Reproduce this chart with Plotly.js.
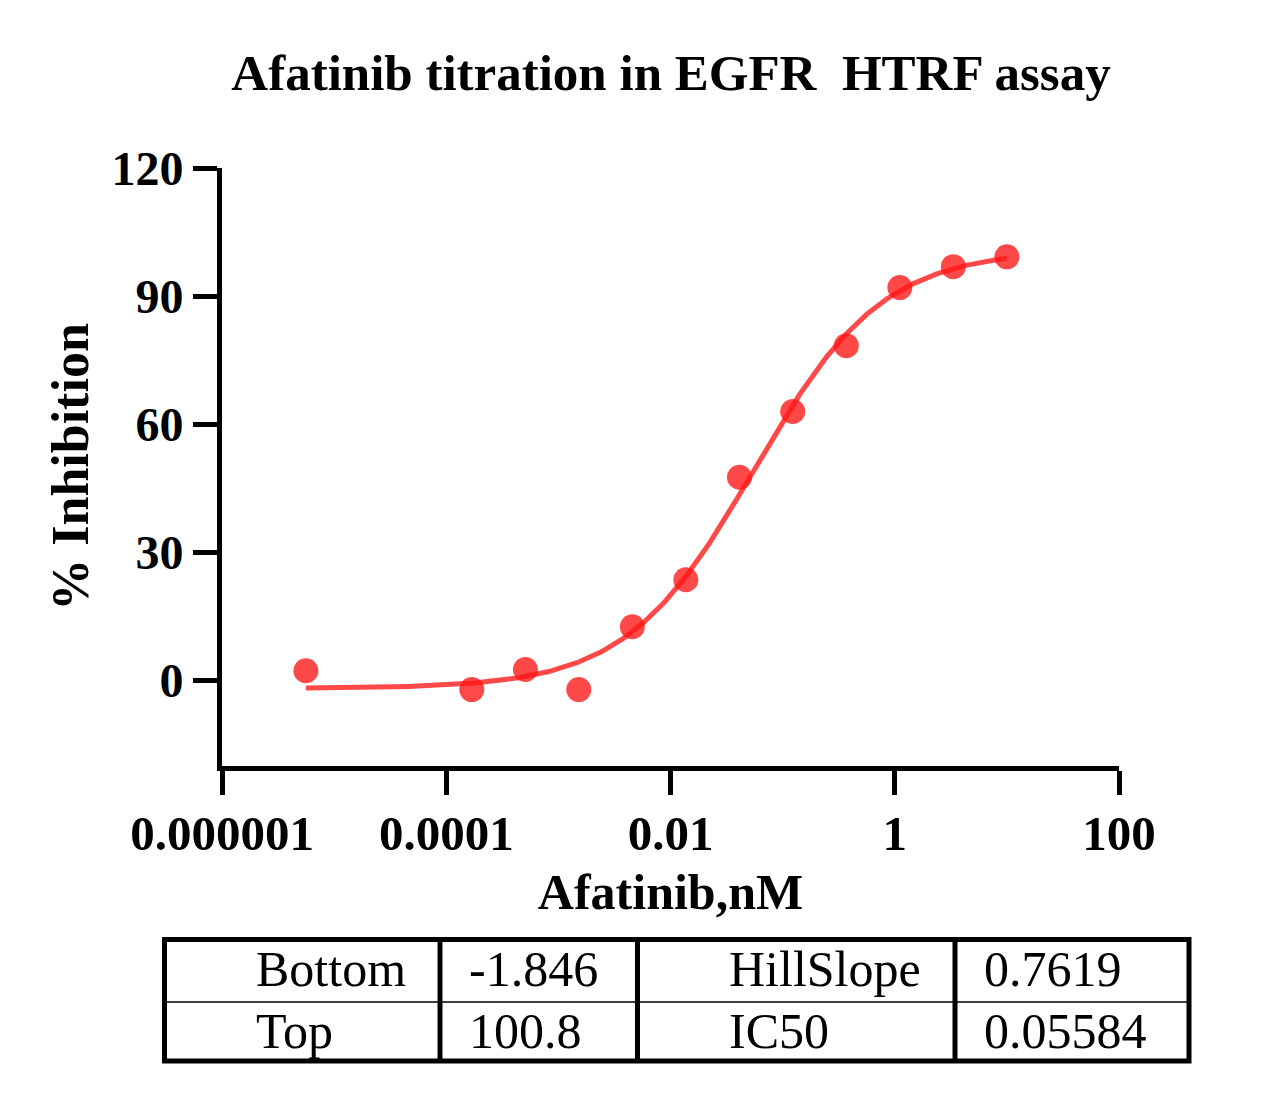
<!DOCTYPE html>
<html>
<head>
<meta charset="utf-8">
<script src="https://cdn.plot.ly/plotly-3.0.1.min.js"></script>
<style>html,body{margin:0;padding:0;background:#fff;}#chart{width:1272px;height:1095px;}</style>
</head>
<body>
<div id="chart"></div>
<script>
// ---- data ----
const concentration = [5.6e-6, 1.69e-4, 5.08e-4, 1.52e-3, 4.57e-3, 0.0137, 0.0412, 0.123, 0.370, 1.11, 3.33, 10];
const inhibition    = [2.3, -2.1, 2.6, -2.1, 12.6, 23.6, 47.6, 63.0, 78.4, 92.0, 96.9, 99.2];
const xTickVals = [1e-6, 1e-4, 0.01, 1, 100];
const xTickText = ['0.000001', '0.0001', '0.01', '1', '100'];
const yTickVals = [0, 30, 60, 90, 120];
const paramNames  = ['Bottom', 'Top', 'HillSlope', 'IC50'];
const paramValues = ['-1.846', '100.8', '0.7619', '0.05584'];

// ---- fitted 4PL curve from the reported parameters ----
const fitBottom = parseFloat(paramValues[0]), fitTop = parseFloat(paramValues[1]);
const fitHill = parseFloat(paramValues[2]), fitIC50 = parseFloat(paramValues[3]);
const lx0 = Math.log10(concentration[0]), lx1 = Math.log10(concentration[concentration.length - 1]);
const fitX = [], fitY = [];
for (let i = 0; i <= 300; i++) {
  const x = Math.pow(10, lx0 + (lx1 - lx0) * i / 300);
  fitX.push(x);
  fitY.push(fitBottom + (fitTop - fitBottom) / (1 + Math.pow(fitIC50 / x, fitHill)));
}

// ---- layout geometry ----
const W = 1272, H = 1095;
const M = {l: 222, r: 153, t: 168, b: 329};
const PW = W - M.l - M.r, PH = H - M.t - M.b;
const px = x => (x - M.l) / PW;
const py = y => (H - M.b - y) / PH;
const FONT = '"Liberation Serif", "Times New Roman", Times, serif';
const red = 'rgba(255,20,20,0.78)';

const traces = [
  {x: fitX, y: fitY, mode: 'lines', type: 'scatter', name: 'Fit',
   line: {color: red, width: 5}, hoverinfo: 'skip', showlegend: false},
  {x: concentration, y: inhibition, mode: 'markers', type: 'scatter', name: 'Afatinib',
   marker: {color: red, size: 25, line: {width: 0}}, showlegend: false}
];

// table
const tbl = {x0: 164.5, x1: 1189, y0: 939.5, y1: 1061, ymid: 1002, cols: [440, 637.5, 955]};
const shapes = [
  {type: 'rect', xref: 'paper', yref: 'paper', x0: px(tbl.x0), x1: px(tbl.x1), y0: py(tbl.y0), y1: py(tbl.y1),
   line: {color: '#000', width: 5}, fillcolor: 'rgba(0,0,0,0)'},
  {type: 'line', xref: 'paper', yref: 'paper', x0: px(tbl.x0), x1: px(tbl.x1), y0: py(tbl.ymid), y1: py(tbl.ymid),
   line: {color: '#000', width: 1.5}}
];
tbl.cols.forEach(c => shapes.push({type: 'line', xref: 'paper', yref: 'paper', x0: px(c), x1: px(c),
  y0: py(tbl.y0), y1: py(tbl.y1), line: {color: '#000', width: 5}}));

const textX = [254, 467, 727, 982];
const rowY = [969, 1031];
const annotations = [];
const cells = [
  [paramNames[0], paramValues[0], paramNames[2], paramValues[2]],
  [paramNames[1], paramValues[1], paramNames[3], paramValues[3]]
];
cells.forEach((row, r) => row.forEach((txt, c) => annotations.push({
  text: txt, xref: 'paper', yref: 'paper', x: px(textX[c]), y: py(rowY[r]),
  xanchor: 'left', yanchor: 'middle', showarrow: false,
  font: {family: FONT, size: 50, color: '#000'}
})));

const layout = {
  width: W, height: H, margin: M,
  paper_bgcolor: '#fff', plot_bgcolor: '#fff',
  font: {family: FONT, color: '#000'},
  title: {text: '<b>Afatinib titration in EGFR  HTRF assay</b>', font: {family: FONT, size: 51, color: '#000'},
          x: 671 / W, xanchor: 'center', xref: 'container', y: 1 - 72 / H, yanchor: 'middle', yref: 'container'},
  xaxis: {type: 'log', range: [-6, 2], tickvals: xTickVals, ticktext: xTickText,
          showline: true, linecolor: '#000', linewidth: 5, mirror: false,
          ticks: 'outside', ticklen: 24, tickwidth: 5, tickcolor: '#000',
          showgrid: false, zeroline: false, ticklabelstandoff: -4,
          tickfont: {family: FONT, size: 49, color: '#000', weight: 'bold'},
          title: {text: '<b>Afatinib,nM</b>', font: {family: FONT, size: 50, color: '#000'}, standoff: 16}},
  yaxis: {range: [-20, 120], tickvals: yTickVals,
          showline: true, linecolor: '#000', linewidth: 5,
          ticks: 'outside', ticklen: 24, tickwidth: 5, tickcolor: '#000',
          showgrid: false, zeroline: false,
          tickfont: {family: FONT, size: 48, color: '#000', weight: 'bold'},
          title: {text: '<b>% Inhibition</b>', font: {family: FONT, size: 52, color: '#000'}, standoff: 8}},
  shapes: shapes,
  annotations: annotations,
  showlegend: false
};

Plotly.newPlot('chart', traces, layout, {displayModeBar: false, staticPlot: true});
</script>
</body>
</html>
